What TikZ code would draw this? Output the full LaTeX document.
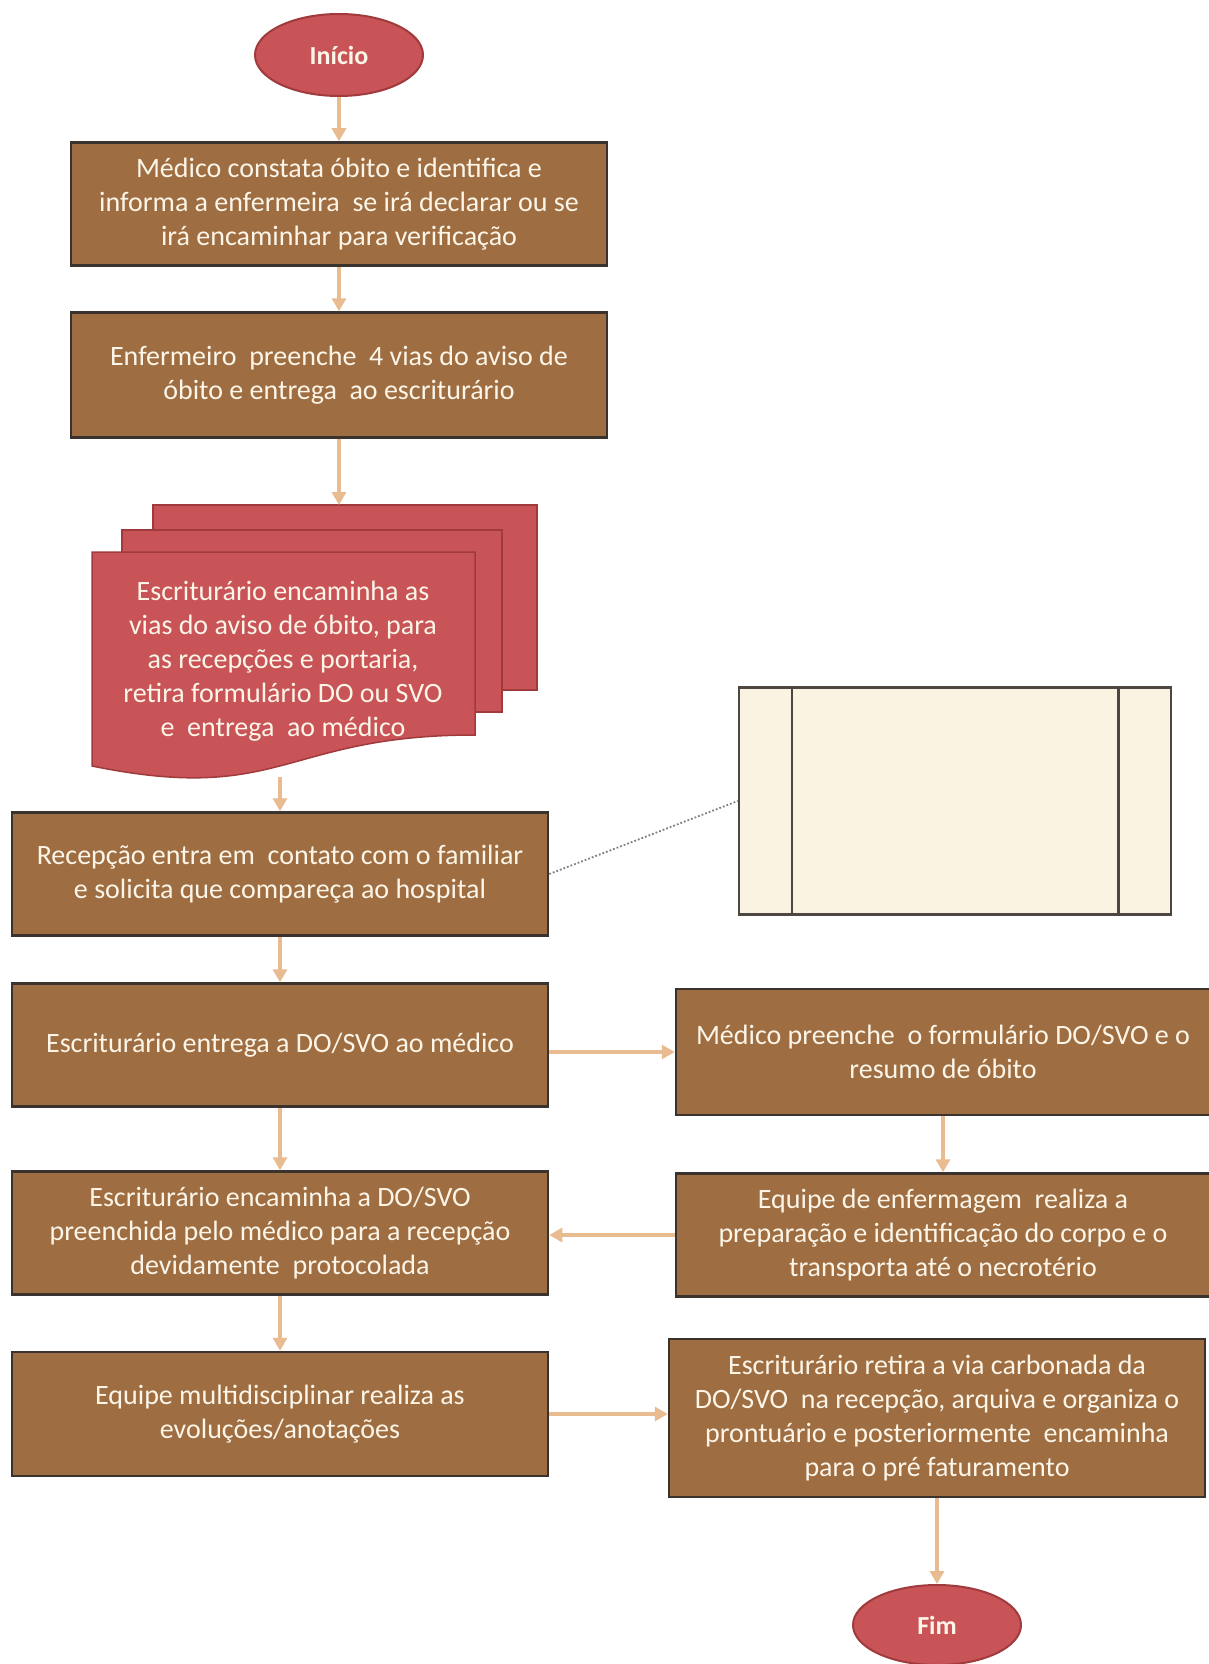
\documentclass[tikz,border=0pt]{standalone}
\usepackage{fontspec}
\setmainfont{Carlito}
\usetikzlibrary{arrows.meta, positioning, shapes.geometric, calc}

\definecolor{caixa}{RGB}{158,110,66}
\definecolor{borda}{RGB}{58,50,44}
\definecolor{vermelho}{RGB}{200,84,88}
\definecolor{bordavermelha}{RGB}{160,58,60}
\definecolor{corseta}{RGB}{232,188,144}
\definecolor{texto}{RGB}{252,245,232}
\definecolor{creme}{RGB}{250,243,226}

\begin{document}
\begin{tikzpicture}[x=1pt, y=-1pt,
  etapa/.style={draw=borda, line width=2.5pt, fill=caixa, text=texto,
    minimum width=536pt, minimum height=123pt, align=center, inner sep=0pt,
    font=\fontsize{28}{34}\selectfont},
  terminal/.style={ellipse, draw=bordavermelha, line width=2pt, fill=vermelho,
    text=texto, minimum width=168pt, minimum height=82pt,
    font=\fontsize{26}{30}\selectfont\bfseries},
  folha/.style={fill=vermelho, draw=bordavermelha, line width=1.5pt},
  seta/.style={draw=corseta, line width=3.5pt, -{Triangle[length=13pt,width=14pt]}}]
  \useasboundingbox (0,0) rectangle (1208,1664);

  % coluna da esquerda
  \node[terminal] (inicio) at (339,55) {Início};
  \node[etapa] (b1) at (339,204) {Médico constata óbito e identifica e\\
    informa a enfermeira \ se irá declarar ou se\\ irá encaminhar para verificação};
  \node[etapa, minimum height=125pt] (b2) at (339,375) {Enfermeiro \ preenche \ 4 vias do aviso de\\
    óbito e entrega \ ao escriturário};

  % documento múltiplo
  \draw[folha] (153,505) rectangle (537,690);
  \draw[folha] (122,530) rectangle (502,712);
  \draw[folha] (92,552) -- (475,552) -- (475,735)
    .. controls (283,735) and (283,805) .. (92,766) -- cycle;
  \node[align=center, text=texto, font=\fontsize{28}{34}\selectfont] (doc) at (283,661)
    {Escriturário encaminha as\\ vias do aviso de óbito, para\\ as recepções e portaria,\\
     retira formulário DO ou SVO\\ e \ entrega \ ao médico};
  \coordinate (doctopo) at (339,505);
  \coordinate (docbase) at (280,777);

  \node[etapa] (b3) at (280,874) {Recepção entra em \ contato com o familiar\\
    e solicita que compareça ao hospital};
  \node[etapa] (b4) at (280,1045) {Escriturário entrega a DO/SVO ao médico};
  \node[etapa] (b5) at (280,1233) {Escriturário encaminha a DO/SVO\\
    preenchida pelo médico para a recepção\\ devidamente \ protocolada};
  \node[etapa, minimum height=124pt] (b6) at (280,1414) {Equipe multidisciplinar realiza as\\
    evoluções/anotações};

  % coluna da direita
  \node[etapa, minimum width=534pt, minimum height=126pt] (r1) at (943,1052)
    {Médico preenche \ o formulário DO/SVO e o\\ resumo de óbito};
  \node[etapa, minimum width=534pt] (r2) at (943,1235) {Equipe de enfermagem \ realiza a\\
    preparação e identificação do corpo e o\\ transporta até o necrotério};
  \node[etapa, minimum height=158pt] (r3) at (937,1418) {Escriturário retira a via carbonada da\\
    DO/SVO \ na recepção, arquiva e organiza o\\ prontuário e posteriormente \ encaminha\\
    para o pré faturamento};
  \node[terminal, minimum height=80pt] (fim) at (937,1625) {Fim};

  % anotação
  \node[draw=borda!90, line width=2.5pt, fill=creme, minimum width=432pt,
    minimum height=227pt] (nota) at (955,801) {};
  \draw[draw=borda!90, line width=2.5pt] ($(nota.north west)+(54,0)$) -- ($(nota.south west)+(54,0)$);
  \draw[draw=borda!90, line width=2.5pt] ($(nota.north east)+(-54,0)$) -- ($(nota.south east)+(-54,0)$);
  \draw[dotted, gray, line width=1.8pt] (b3.east) -- (nota.west);

  % setas
  \draw[seta] (inicio) -- (b1);
  \draw[seta] (b1) -- (b2);
  \draw[seta] (b2.south) -- (doctopo);
  \draw[seta] (docbase) -- (b3.north);
  \draw[seta] (b3) -- (b4);
  \draw[seta] (b4) -- (b5);
  \draw[seta] (b5) -- (b6);
  \draw[seta] (b4.east |- r1.west) -- (r1.west);
  \draw[seta] (r1) -- (r2);
  \draw[seta] (r2.west) -- (r2.west -| b5.east);
  \draw[seta] (b6.east) -- (b6.east -| r3.west);
  \draw[seta] (r3) -- (fim);
\end{tikzpicture}
\end{document}
